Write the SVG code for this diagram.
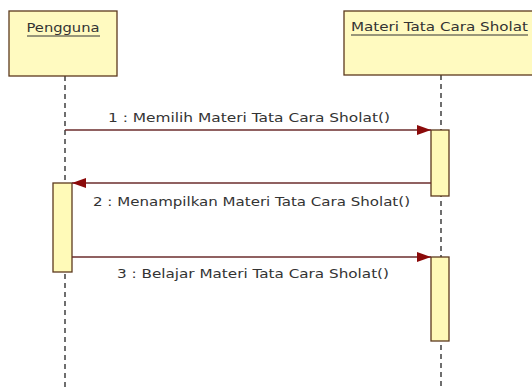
<svg xmlns="http://www.w3.org/2000/svg" width="532" height="387" viewBox="0 0 532 387">
<defs>
<style>
.box{fill:#FFFAC0;stroke:#5C3A1E;stroke-width:1.3}
.act{fill:#FFFAB8;stroke:#5C3A1E;stroke-width:1.3}
.life{stroke:#222;stroke-width:1.3;stroke-dasharray:5,4;fill:none}
.msg{stroke:#6B2D2D;stroke-width:1.3;fill:none}
.t{font-family:"DejaVu Sans","Liberation Sans",sans-serif;font-size:13px;fill:#333}
.u{stroke:#333;stroke-width:1}
</style>
<marker id="ah" markerWidth="14" markerHeight="10" refX="14" refY="5" orient="auto" markerUnits="userSpaceOnUse">
<path d="M0,0 L14,5 L0,10 Z" fill="#8B0A0A"/>
</marker>
</defs>
<rect width="532" height="387" fill="#fff"/>
<g id="lifelines">
<line class="life" x1="65" y1="76" x2="65" y2="387"/>
<line class="life" x1="441" y1="75" x2="441" y2="387"/>
</g>
<g id="pengguna">
<rect class="box" x="9" y="11" width="108" height="65"/>
<text class="t" x="63" y="32" text-anchor="middle" textLength="73" lengthAdjust="spacingAndGlyphs">Pengguna</text>
<line class="u" x1="27" y1="36" x2="100" y2="36"/>
</g>
<g id="materi">
<rect class="box" x="344" y="11" width="200" height="64"/>
<text class="t" x="351" y="31" textLength="177" lengthAdjust="spacingAndGlyphs">Materi Tata Cara Sholat</text>
<line class="u" x1="351" y1="35" x2="528" y2="35"/>
</g>
<g id="act-materi-1"><rect class="act" x="431" y="130" width="18" height="66"/></g>
<g id="act-pengguna"><rect class="act" x="53" y="183" width="19" height="89"/></g>
<g id="act-materi-2"><rect class="act" x="431" y="257" width="18" height="84"/></g>
<g id="connectors">
<line class="msg" x1="65" y1="130" x2="431" y2="130" marker-end="url(#ah)"/>
<line class="msg" x1="431" y1="183" x2="72" y2="183" marker-end="url(#ah)"/>
<line class="msg" x1="72" y1="257" x2="431" y2="257" marker-end="url(#ah)"/>
</g>
<g id="labels">
<text class="t" x="108" y="122" textLength="282" lengthAdjust="spacingAndGlyphs">1 : Memilih Materi Tata Cara Sholat()</text>
<text class="t" x="93" y="206" textLength="317" lengthAdjust="spacingAndGlyphs">2 : Menampilkan Materi Tata Cara Sholat()</text>
<text class="t" x="117" y="278" textLength="272" lengthAdjust="spacingAndGlyphs">3 : Belajar Materi Tata Cara Sholat()</text>
</g>
</svg>
